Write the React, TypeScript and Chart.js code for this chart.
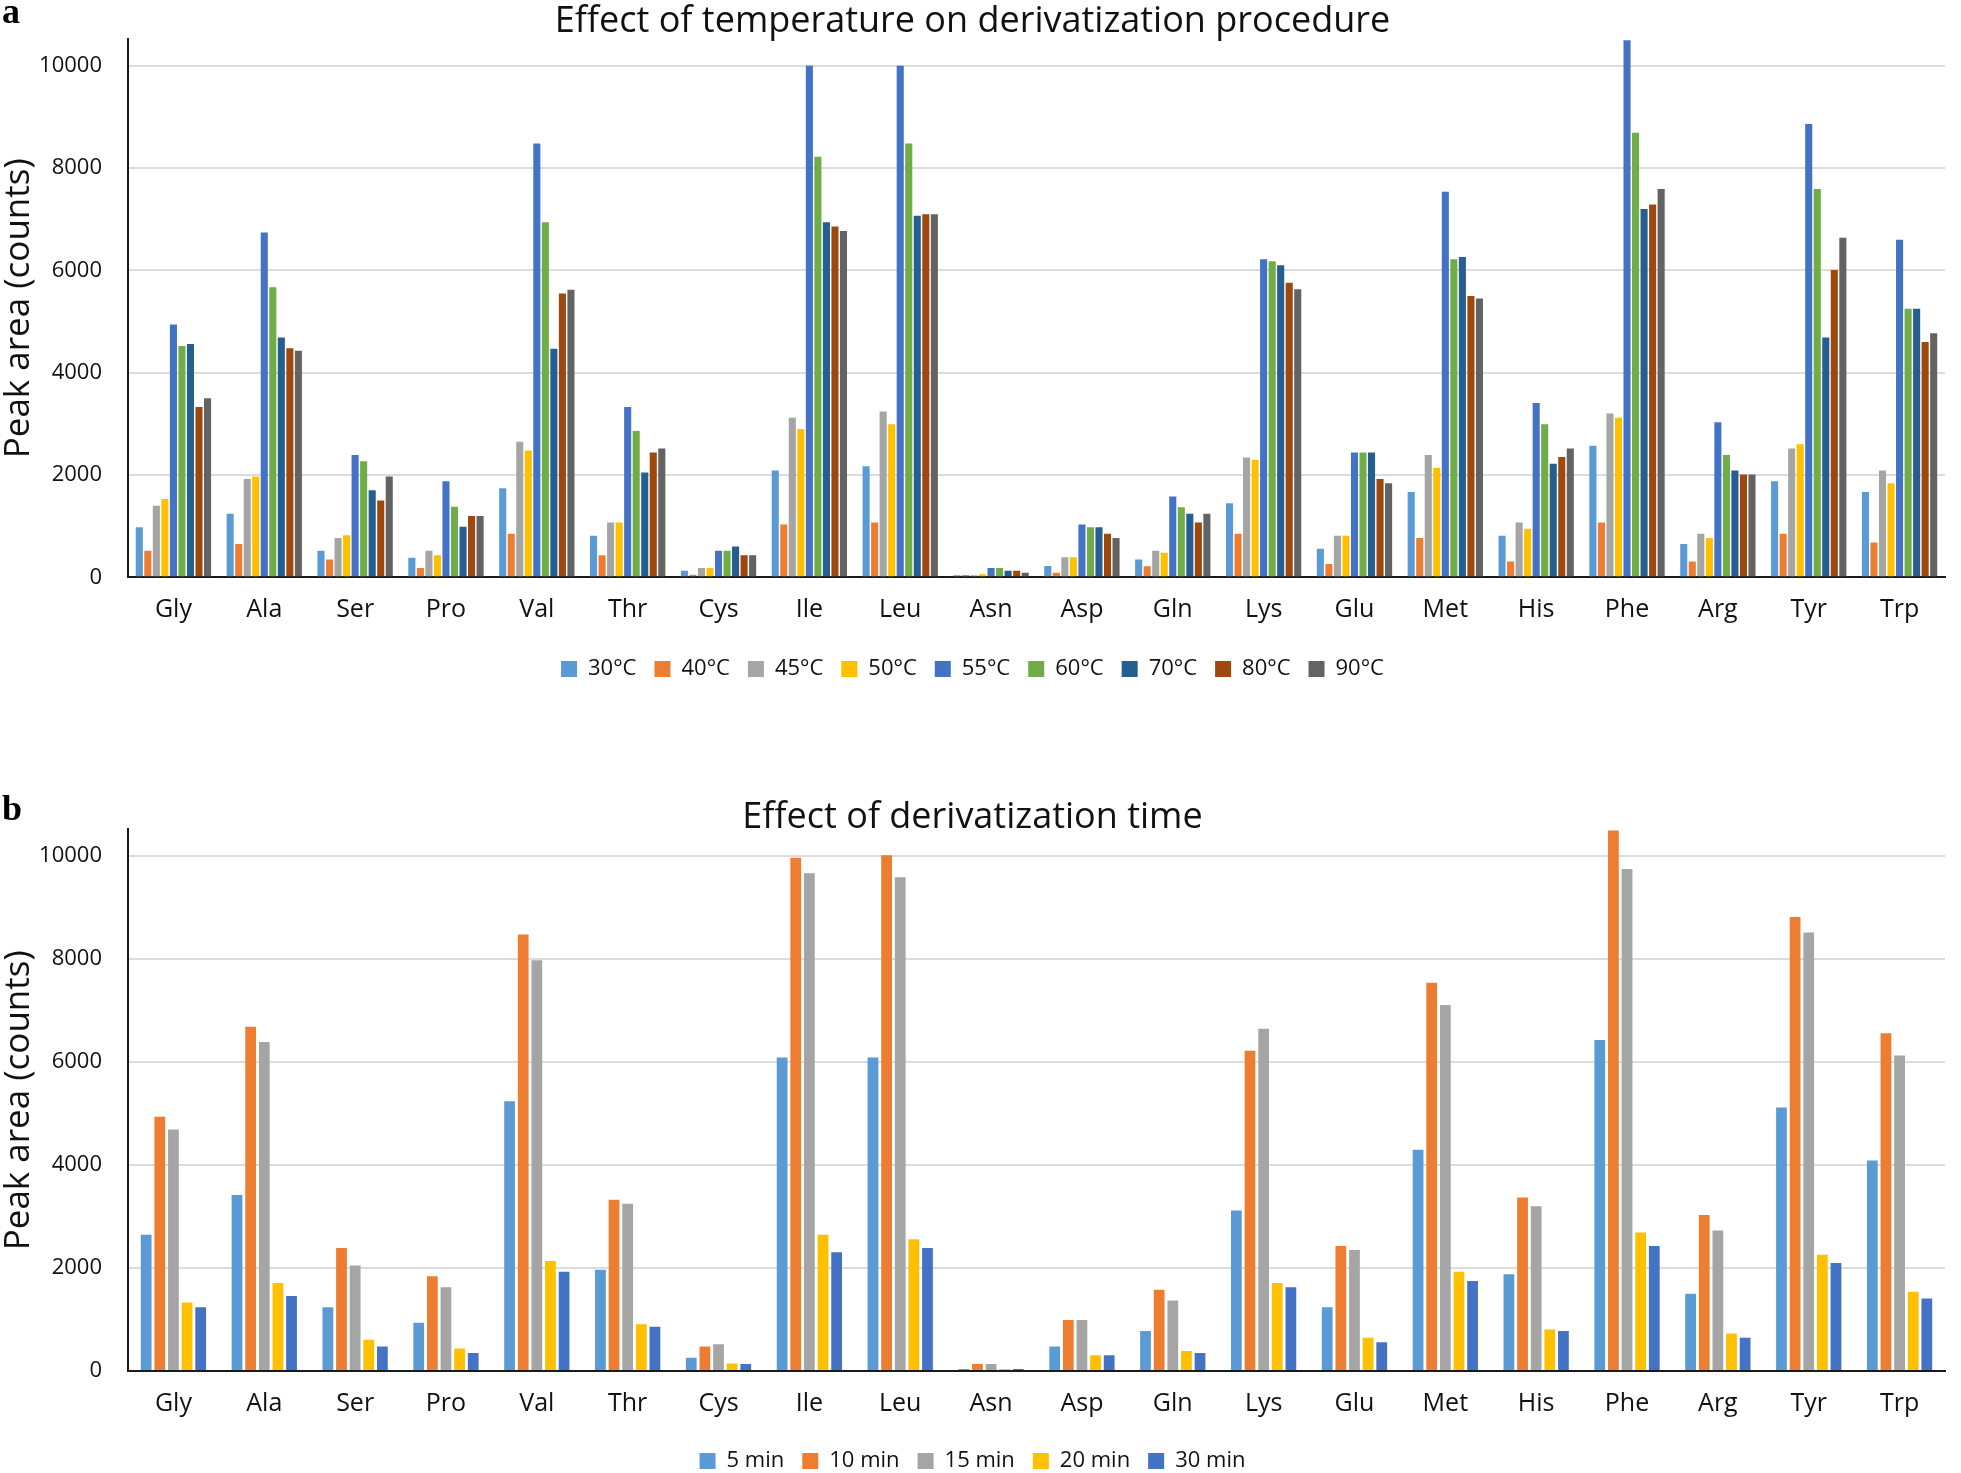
import React, { useEffect, useRef } from 'react';
import { Chart, registerables } from 'chart.js';

Chart.register(...registerables);

// ---------- data ----------
const aminoAcids = ['Gly', 'Ala', 'Ser', 'Pro', 'Val', 'Thr', 'Cys', 'Ile', 'Leu', 'Asn', 'Asp', 'Gln', 'Lys', 'Glu', 'Met', 'His', 'Phe', 'Arg', 'Tyr', 'Trp'];

const yTicks = [0, 2000, 4000, 6000, 8000, 10000];

// Panel a: temperature
const tempLabels = ['30°C', '40°C', '45°C', '50°C', '55°C', '60°C', '70°C', '80°C', '90°C'];
const tempColors = ['#5B9BD5', '#ED7D31', '#A5A5A5', '#FFC000', '#4472C4', '#70AD47', '#255E91', '#9E480E', '#636363'];
const t30 = [980, 1240, 520, 380, 1740, 810, 130, 2090, 2170, 40, 220, 350, 1450, 560, 1670, 810, 2570, 650, 1880, 1670];
const t40 = [520, 650, 350, 180, 850, 430, 50, 1030, 1070, 45, 90, 215, 850, 260, 770, 310, 1070, 310, 850, 680];
const t45 = [1400, 1920, 770, 520, 2650, 1070, 180, 3120, 3240, 40, 390, 520, 2340, 810, 2390, 1070, 3200, 850, 2520, 2090];
const t50 = [1530, 1970, 820, 430, 2480, 1070, 180, 2900, 2990, 60, 390, 480, 2300, 810, 2140, 950, 3120, 770, 2600, 1840];
const t55 = [4940, 6740, 2390, 1880, 8480, 3330, 520, 10000, 10000, 180, 1030, 1580, 6220, 2440, 7540, 3410, 10500, 3030, 8860, 6600];
const t60 = [4520, 5670, 2270, 1380, 6940, 2860, 520, 8220, 8480, 180, 980, 1370, 6180, 2440, 6220, 2990, 8690, 2390, 7590, 5250];
const t70 = [4560, 4690, 1700, 990, 4470, 2050, 600, 6940, 7070, 130, 980, 1240, 6100, 2440, 6260, 2220, 7200, 2090, 4690, 5250];
const t80 = [3330, 4480, 1500, 1200, 5550, 2440, 430, 6860, 7100, 130, 850, 1070, 5760, 1920, 5500, 2350, 7290, 2010, 6010, 4600];
const t90 = [3500, 4430, 1970, 1200, 5620, 2520, 430, 6770, 7100, 90, 770, 1240, 5630, 1840, 5450, 2520, 7590, 2010, 6640, 4770];
const tempSeries = [t30, t40, t45, t50, t55, t60, t70, t80, t90];

// Panel b: time
const timeLabels = ['5 min', '10 min', '15 min', '20 min', '30 min'];
const timeColors = ['#5B9BD5', '#ED7D31', '#A5A5A5', '#FFC000', '#4472C4'];
const m5 = [2650, 3420, 1240, 940, 5240, 1970, 260, 6090, 6090, 40, 480, 780, 3120, 1240, 4300, 1880, 6430, 1500, 5120, 4090];
const m10 = [4940, 6690, 2390, 1840, 8480, 3330, 480, 9970, 10020, 140, 990, 1580, 6220, 2430, 7540, 3370, 10500, 3030, 8820, 6560];
const m15 = [4690, 6390, 2050, 1630, 7980, 3250, 520, 9670, 9590, 140, 990, 1370, 6650, 2350, 7110, 3200, 9750, 2730, 8520, 6130];
const m20 = [1330, 1710, 610, 440, 2140, 910, 150, 2650, 2560, 40, 310, 390, 1710, 650, 1930, 810, 2690, 730, 2260, 1540];
const m30 = [1240, 1460, 480, 350, 1930, 860, 140, 2310, 2390, 40, 310, 350, 1630, 560, 1750, 780, 2430, 650, 2100, 1410];
const timeSeries = [m5, m10, m15, m20, m30];

const FONT = "'Open Sans', sans-serif";
const TEXT = '#111111';

type PanelCfg = {
  title: string;
  labels: string[];
  colors: string[];
  series: number[][];
  catPct: number;
  barPct: number;
  padTop: number;
  padBottom: number;
  titleLH: number;
  xHeight: number;
};

function buildConfig(p: PanelCfg): any {
  return {
    type: 'bar',
    data: {
      labels: aminoAcids,
      datasets: p.series.map((s, i) => ({
        label: p.labels[i],
        data: s,
        backgroundColor: p.colors[i],
        borderWidth: 0,
        categoryPercentage: p.catPct,
        barPercentage: p.barPct,
      })),
    },
    options: {
      animation: false,
      responsive: true,
      maintainAspectRatio: false,
      layout: { padding: { left: 0, right: 16, top: p.padTop, bottom: p.padBottom } },
      plugins: {
        tooltip: { enabled: false },
        title: {
          display: true,
          text: p.title,
          color: TEXT,
          font: { family: FONT, size: 36, weight: 'normal', lineHeight: p.titleLH },
          padding: { top: 0, bottom: 0 },
        },
        legend: {
          position: 'bottom',
          labels: {
            color: TEXT,
            font: { family: FONT, size: 22 },
            boxWidth: 16,
            boxHeight: 16,
            padding: 18,
          },
        },
      },
      scales: {
        x: {
          grid: { display: false, drawTicks: false },
          border: { display: true, color: '#1a1a1a', width: 2 },
          ticks: { color: TEXT, font: { family: FONT, size: 25 }, padding: 18, maxRotation: 0, autoSkip: false },
          afterFit: (scale: any) => { scale.height = p.xHeight; },
        },
        y: {
          min: 0,
          max: 10520,
          ticks: {
            stepSize: 2000,
            color: TEXT,
            font: { family: FONT, size: 22 },
            padding: 26,
            callback: (v: any) => String(v),
          },
          afterBuildTicks: (axis: any) => {
            axis.ticks = yTicks.map((v) => ({ value: v }));
          },
          grid: {
            drawTicks: false,
            lineWidth: 2,
            color: (ctx: any) => (ctx.tick && ctx.tick.value === 0 ? 'rgba(0,0,0,0)' : '#dcdcdc'),
          },
          border: { display: true, color: '#1a1a1a', width: 2 },
          title: {
            display: true,
            text: 'Peak area (counts)',
            color: TEXT,
            font: { family: FONT, size: 35, lineHeight: 1.07 },
            padding: { top: 0, bottom: 0 },
          },
          afterFit: (scale: any) => { scale.width = 128; },
        },
      },
    },
  };
}

function Panel({ cfg, top, height }: { cfg: PanelCfg; top: number; height: number }) {
  const ref = useRef<HTMLCanvasElement | null>(null);
  useEffect(() => {
    if (!ref.current) return;
    const chart = new Chart(ref.current, buildConfig(cfg));
    return () => chart.destroy();
  }, []);
  return (
    <div style={{ position: 'absolute', left: 0, top, width: 1961, height }}>
      <canvas ref={ref} />
    </div>
  );
}

const panelA: PanelCfg = {
  title: 'Effect of temperature on derivatization procedure',
  labels: tempLabels,
  colors: tempColors,
  series: tempSeries,
  catPct: 0.845,
  barPct: 0.83,
  padTop: 0,
  padBottom: 46,
  titleLH: 0.983,
  xHeight: 62.7,
};

const panelB: PanelCfg = {
  title: 'Effect of derivatization time',
  labels: timeLabels,
  colors: timeColors,
  series: timeSeries,
  catPct: 0.75,
  barPct: 0.79,
  padTop: 69.8,
  padBottom: -9,
  titleLH: 0.656,
  xHeight: 60.9,
};

const letterStyle: React.CSSProperties = {
  position: 'absolute',
  left: 2,
  fontFamily: "'Liberation Serif', 'DejaVu Serif', serif",
  fontWeight: 'bold',
  fontSize: 36,
  lineHeight: 1,
  color: '#000',
};

export default function App() {
  return (
    <div style={{ position: 'absolute', left: 0, top: 0, width: 1961, height: 1473, background: '#fff', overflow: 'hidden' }}>
      <Panel cfg={panelA} top={0} height={736} />
      <Panel cfg={panelB} top={736} height={737} />
      <div style={{ ...letterStyle, top: -7 }}>a</div>
      <div style={{ ...letterStyle, top: 790 }}>b</div>
    </div>
  );
}
